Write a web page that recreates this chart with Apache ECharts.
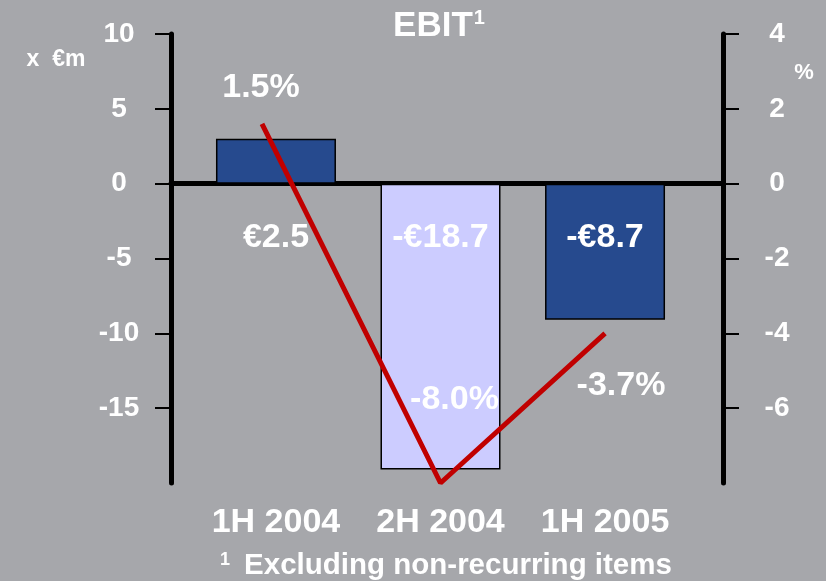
<!DOCTYPE html>
<html>
<head>
<meta charset="utf-8">
<script src="https://cdn.jsdelivr.net/npm/echarts@6/dist/echarts.min.js"></script>
<style>
  html, body { margin: 0; padding: 0; background: #a6a7ab; }
  #ebitChart { width: 826px; height: 581px; }
</style>
</head>
<body>
<div id="ebitChart"></div>
<script>
// 数据
const categories = ['1H 2004', '2H 2004', '1H 2005'];
const ebit = [3.0, -19.1, -9.1];              // bars as drawn (x €m)
const ebitLabels = ['€2.5', '-€18.7', '-€8.7'];
const margin = [1.6, -8.0, -4.0];              // red line as drawn (%)
const marginX = [0.915, 2, 3];                 // line point positions on the category scale
const marginLabels = ['1.5%', '-8.0%', '-3.7%'];
const leftTicks = [10, 5, 0, -5, -10, -15];
const rightTicks = [4, 2, 0, -2, -4, -6];

const font = "'Liberation Sans', Arial, sans-serif";
const white = '#ffffff';

let chart = echarts.init(document.getElementById('ebitChart'));
chart.setOption({
    backgroundColor: '#a6a7ab',
    animation: false,
    textStyle: { fontFamily: font, fontWeight: 'bold', color: white },
    grid: { left: 171, right: 103, top: 34, bottom: 98 },
    xAxis: [{
        // 0 line
        type: 'value', min: 0.362, max: 3.717,
        axisLine: { show: true, onZero: true, lineStyle: { color: '#000', width: 5 } },
        axisTick: { show: false },
        axisLabel: { show: false },
        splitLine: { show: false }
    }, {
        type: 'value', min: 0.362, max: 3.717, position: 'bottom',
        axisLine: { show: false, onZero: false },
        axisTick: { show: false },
        splitLine: { show: false },
        axisLabel: {
            customValues: [1, 2, 3],
            formatter: v => categories[Math.round(v) - 1],
            color: white, fontFamily: font, fontWeight: 'bold',
            fontSize: 34, lineHeight: 34, margin: 23
        }
    }],
    yAxis: [{
        type: 'value', min: -20, max: 10, interval: 5,
        axisLine: { show: true, onZero: false, lineStyle: { color: '#000', width: 5 } },
        axisTick: { show: true, customValues: leftTicks, length: 16, lineStyle: { color: '#000', width: 2 } },
        axisLabel: {
            customValues: leftTicks, align: 'center', margin: 52,
            color: white, fontFamily: font, fontWeight: 'bold', fontSize: 28
        },
        splitLine: { show: false }
    }, {
        type: 'value', min: -8, max: 4, interval: 2, position: 'right',
        axisLine: { show: true, onZero: false, lineStyle: { color: '#000', width: 5 } },
        axisTick: { show: true, customValues: rightTicks, length: 16, lineStyle: { color: '#000', width: 2 } },
        axisLabel: {
            customValues: rightTicks, align: 'center', margin: 54,
            color: white, fontFamily: font, fontWeight: 'bold', fontSize: 28
        },
        splitLine: { show: false }
    }],
    graphic: [{
        type: 'text', x: 439, y: 26,
        style: {
            text: '{a|EBIT}{b|1}', align: 'center', verticalAlign: 'middle',
            rich: {
                a: { fontFamily: font, fontWeight: 'bold', fontSize: 35, fill: white, color: white },
                b: { fontFamily: font, fontWeight: 'bold', fontSize: 20, fill: white, color: white, verticalAlign: 'top', padding: [0, 0, 14, 1] }
            }
        }
    }, {
        type: 'text', x: 56, y: 60,
        style: { text: 'x  €m', align: 'center', verticalAlign: 'middle', font: 'bold 23px ' + font, fill: white }
    }, {
        type: 'text', x: 804, y: 73,
        style: { text: '%', align: 'center', verticalAlign: 'middle', font: 'bold 22px ' + font, fill: white }
    }, {
        type: 'text', x: 446, y: 566,
        style: {
            text: '{s|1}{t|Excluding non-recurring items}', align: 'center', verticalAlign: 'middle',
            rich: {
                s: { fontFamily: font, fontWeight: 'bold', fontSize: 18, fill: white, color: white, padding: [0, 14, 12, 0] },
                t: { fontFamily: font, fontWeight: 'bold', fontSize: 29.5, fill: white, color: white }
            }
        }
    }],
    series: [{
        name: 'EBIT',
        type: 'bar',
        xAxisIndex: 0, yAxisIndex: 0,
        barWidth: 120,
        data: ebit.map((v, i) => ({
            value: [i + 1, v],
            itemStyle: { color: i === 1 ? '#ccccff' : '#264a8e' },
            label: {
                show: true,
                position: v >= 0 ? 'bottom' : 'insideTop',
                distance: 37,
                formatter: ebitLabels[i]
            }
        })),
        itemStyle: { borderColor: '#000', borderWidth: 1.5 },
        label: { color: white, fontFamily: font, fontWeight: 'bold', fontSize: 34 }
    }, {
        name: 'Margin',
        type: 'line',
        xAxisIndex: 0, yAxisIndex: 1,
        symbol: 'circle', symbolSize: 0.1,
        lineStyle: { color: '#c00000', width: 5, cap: 'butt' },
        itemStyle: { color: '#c00000' },
        data: margin.map((v, i) => ({
            value: [marginX[i], v],
            label: {
                show: true, position: 'inside',
                offset: [[-1, -36], [14, -83], [16, 52]][i],
                formatter: marginLabels[i]
            }
        })),
        label: { color: white, fontFamily: font, fontWeight: 'bold', fontSize: 34 },
        z: 5
    }]
});
</script>
</body>
</html>
